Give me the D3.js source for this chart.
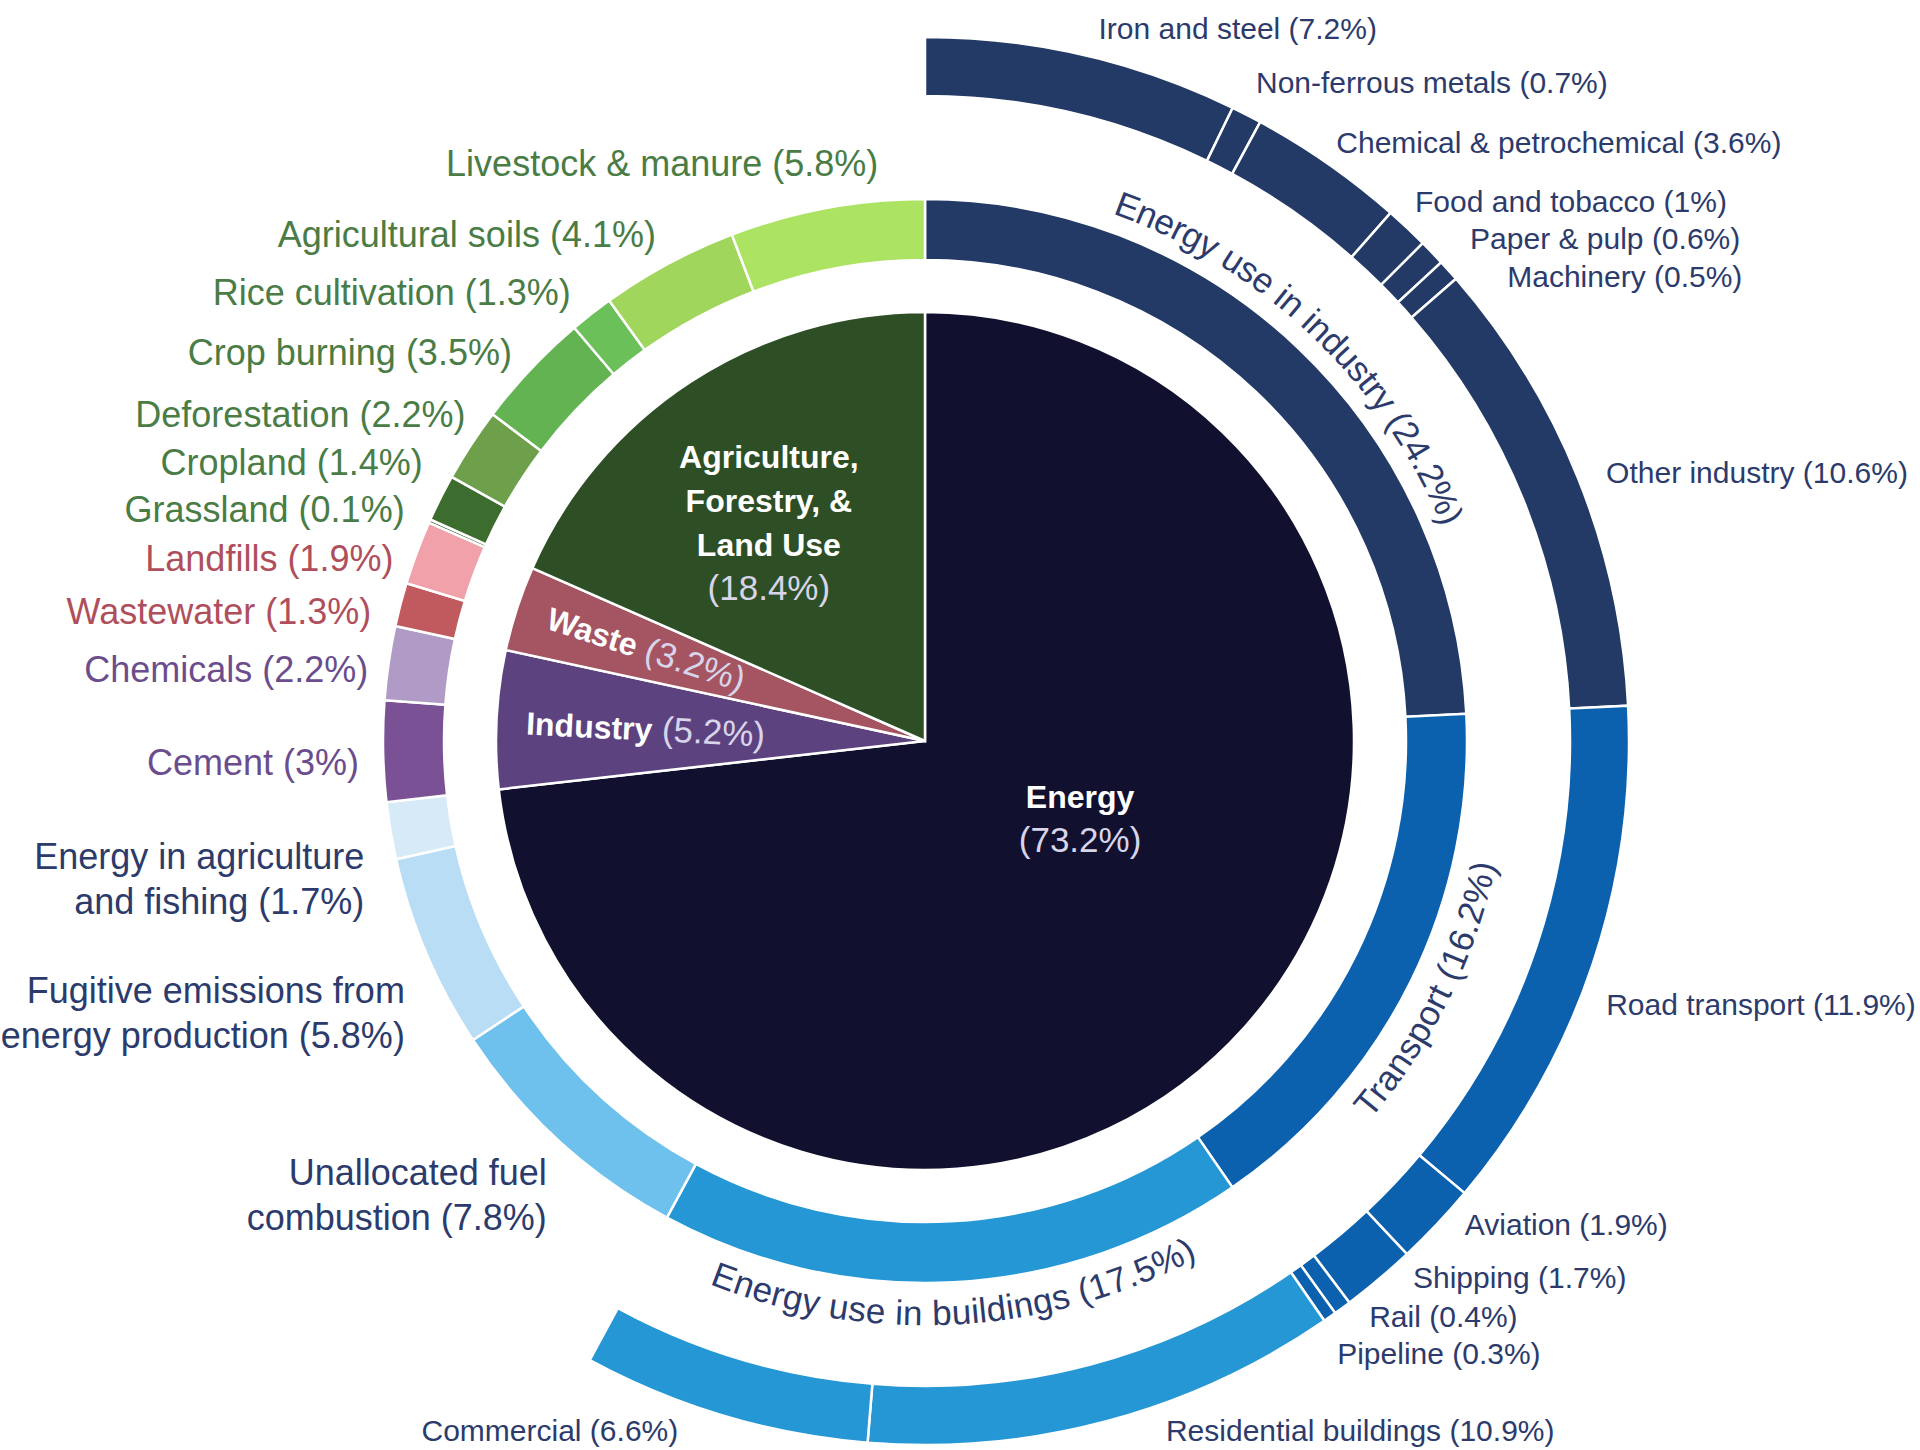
<!DOCTYPE html>
<html>
<head>
<meta charset="utf-8">
<script src="https://cdn.jsdelivr.net/npm/d3@7"></script>
<style>
body { margin: 0; background: #fff; }
text { font-family: "Liberation Sans", Arial, sans-serif; }
</style>
</head>
<body>
<div id="chart"></div>
<script>
// sectors (inner pie), clockwise from 12 o'clock
var sectors = ["Energy", "Industry", "Waste", "Agriculture, Forestry, & Land Use"];
var sectorShares = [73.2, 5.2, 3.2, 18.4];

// second ring
var energyUses = ["Energy use in industry", "Transport", "Energy use in buildings",
	"Unallocated fuel combustion", "Fugitive emissions from energy production",
	"Energy in agriculture and fishing"];
var energyShares = [24.2, 16.2, 17.5, 7.8, 5.8, 1.7];
var industryUses = ["Cement", "Chemicals"];
var industryShares = [3, 2.2];
var wasteUses = ["Wastewater", "Landfills"];
var wasteShares = [1.3, 1.9];
var agriUses = ["Grassland", "Cropland", "Deforestation", "Crop burning",
	"Rice cultivation", "Agricultural soils", "Livestock & manure"];
var agriShares = [0.1, 1.4, 2.2, 3.5, 1.3, 4.1, 5.8];

// outer ring
var industryEnergy = ["Iron and steel", "Non-ferrous metals", "Chemical & petrochemical",
	"Food and tobacco", "Paper & pulp", "Machinery", "Other industry"];
var industryEnergyShares = [7.2, 0.7, 3.6, 1, 0.6, 0.5, 10.6];
var transportUses = ["Road transport", "Aviation", "Shipping", "Rail", "Pipeline"];
var transportShares = [11.9, 1.9, 1.7, 0.4, 0.3];
var buildingUses = ["Residential buildings", "Commercial"];
var buildingShares = [10.9, 6.6];

var width = 1920,
	height = 1450,
	cx = 925,
	cy = 741;

// radii by depth
var ringInner = [0, 0, 481, 645],
	ringOuter = [0, 429, 542, 704],
	labelRadius = [0, 0, 600, 729],
	bandLabelRadius = 572;

var fills = {
	"Energy": "#11112f",
	"Industry": "#5d4280",
	"Waste": "#a55461",
	"Agriculture, Forestry, & Land Use": "#2e4f25",
	"Energy use in industry": "#233966",
	"Transport": "#0b61ae",
	"Energy use in buildings": "#2597d5",
	"Unallocated fuel combustion": "#6ec1ec",
	"Fugitive emissions from energy production": "#b8ddf5",
	"Energy in agriculture and fishing": "#d7eaf8",
	"Cement": "#7b5195",
	"Chemicals": "#b09bc7",
	"Wastewater": "#c05a5e",
	"Landfills": "#f1a1aa",
	"Grassland": "#2f5c26",
	"Cropland": "#3c6d2f",
	"Deforestation": "#6e9f4a",
	"Crop burning": "#63b353",
	"Rice cultivation": "#6cc05a",
	"Agricultural soils": "#a0d65c",
	"Livestock & manure": "#ace363"
};
["Iron and steel", "Non-ferrous metals", "Chemical & petrochemical", "Food and tobacco",
	"Paper & pulp", "Machinery", "Other industry"].forEach(function(n) { fills[n] = "#233966"; });
["Road transport", "Aviation", "Shipping", "Rail", "Pipeline"].forEach(function(n) { fills[n] = "#0b61ae"; });
["Residential buildings", "Commercial"].forEach(function(n) { fills[n] = "#2597d5"; });

var textColors = {
	"Energy": "#2c3b6b",
	"Industry": "#6b4d8d",
	"Waste": "#b04f5c",
	"Agriculture, Forestry, & Land Use": "#4a7c46"
};

// hand nudges for outside labels (px)
var labelNudge = {
	"Livestock & manure": [62, 12],
	"Agricultural soils": [15, 22],
	"Rice cultivation": [15, 24],
	"Crop burning": [23, 23],
	"Deforestation": [43, 1],
	"Cropland": [34, -10],
	"Grassland": [28, 12],
	"Landfills": [31, 26],
	"Wastewater": [27, 21],
	"Chemicals": [37, 15],
	"Cement": [34, 10],
	"Energy in agriculture and fishing": [31, 38],
	"Fugitive emissions from energy production": [32, 37],
	"Unallocated fuel combustion": [27, 11],
	"Iron and steel": [10, -2],
	"Non-ferrous metals": [-2, -10],
	"Chemical & petrochemical": [-6, -1],
	"Food and tobacco": [-9, -8],
	"Paper & pulp": [20, 3],
	"Machinery": [40, 23],
	"Other industry": [5, 4],
	"Road transport": [-10, 32],
	"Aviation": [10, -17],
	"Shipping": [18, -21],
	"Rail": [12, -12],
	"Pipeline": [-7, 16],
	"Residential buildings": [53, -15],
	"Commercial": [-39, -9]
};

// words per line for wrapped labels
var lineSplit = {
	"Energy in agriculture and fishing": [3],
	"Fugitive emissions from energy production": [3],
	"Unallocated fuel combustion": [2],
	"Agriculture, Forestry, & Land Use": [1, 2]
};

var pieLabelLayout = {
	"Energy": { r: 173, dx: 26, dy: -38, inline: false },
	"Industry": { r: 280, dx: 0, dy: 8, inline: true },
	"Waste": { r: 295, dx: 0, dy: 5, inline: true },
	"Agriculture, Forestry, & Land Use": { r: 262, dx: -13, dy: 0, inline: false }
};

function leaves(names, shares) {
	return names.map(function(n, i) { return { name: n, share: shares[i] }; });
}

var subGroups = {
	"Energy use in industry": leaves(industryEnergy, industryEnergyShares),
	"Transport": leaves(transportUses, transportShares),
	"Energy use in buildings": leaves(buildingUses, buildingShares)
};
var secondRing = [
	leaves(energyUses, energyShares),
	leaves(industryUses, industryShares),
	leaves(wasteUses, wasteShares),
	leaves(agriUses, agriShares)
];

var tree = {
	name: "all",
	children: sectors.map(function(s, i) {
		return {
			name: s,
			share: sectorShares[i],
			children: secondRing[i].map(function(c) {
				if (subGroups[c.name]) c.children = subGroups[c.name];
				return c;
			})
		};
	})
};

var root = d3.hierarchy(tree).sum(function(d) { return d.children ? 0 : d.share; });
d3.partition().size([2 * Math.PI, 4])(root);

function splitLines(name, counts) {
	var words = name.split(" ");
	if (!counts) return [name];
	var lines = [], pos = 0;
	counts.forEach(function(c) {
		lines.push(words.slice(pos, pos + c).join(" "));
		pos += c;
	});
	if (pos < words.length) lines.push(words.slice(pos).join(" "));
	return lines;
}

function sectorOf(d) {
	return d.ancestors().filter(function(a) { return a.depth === 1; })[0].data.name;
}

var svg = d3.select("#chart").append("svg")
	.attr("width", width)
	.attr("height", height);

var g = svg.append("g")
	.attr("transform", "translate(" + cx + "," + cy + ")");

var arc = d3.arc()
	.startAngle(function(d) { return d.x0; })
	.endAngle(function(d) { return d.x1; })
	.innerRadius(function(d) { return ringInner[d.depth]; })
	.outerRadius(function(d) { return ringOuter[d.depth]; });

g.selectAll("path.seg")
	.data(root.descendants().filter(function(d) { return d.depth > 0; }))
	.enter().append("path")
	.attr("class", "seg")
	.attr("d", arc)
	.attr("fill", function(d) { return fills[d.data.name]; })
	.attr("stroke", "#fff")
	.attr("stroke-width", 2.5);

// outside labels for leaves
root.descendants().filter(function(d) { return d.depth >= 2 && !d.children; })
	.forEach(function(d) {
		var mid = (d.x0 + d.x1) / 2,
			R = labelRadius[d.depth],
			nud = labelNudge[d.data.name] || [0, 0],
			x = R * Math.sin(mid) + nud[0],
			y = -R * Math.cos(mid) + nud[1],
			fs = d.depth === 2 ? 36 : 30,
			lh = d.depth === 2 ? 45 : 38;
		var lines = splitLines(d.data.name, lineSplit[d.data.name]);
		lines[lines.length - 1] += " (" + d.data.share + "%)";
		var t = g.append("text")
			.attr("x", x)
			.attr("y", y)
			.attr("text-anchor", Math.sin(mid) < 0 ? "end" : "start")
			.attr("font-size", fs)
			.attr("fill", textColors[sectorOf(d)]);
		lines.forEach(function(l, i) {
			t.append("tspan")
				.attr("x", x)
				.attr("dy", i === 0 ? (-(lines.length - 1) / 2 * lh + fs * 0.35) : lh)
				.text(l);
		});
	});

// curved labels for the grouped energy uses
function bandPath(d, r) {
	var mid = (d.x0 + d.x1) / 2,
		flip = mid > Math.PI / 2 && mid < 3 * Math.PI / 2;
	function pt(a) { return [r * Math.sin(a), -r * Math.cos(a)]; }
	if (!flip) return "M" + pt(d.x0) + "A" + r + "," + r + " 0 0,1 " + pt(d.x1);
	return "M" + pt(d.x1) + "A" + r + "," + r + " 0 0,0 " + pt(d.x0);
}

root.descendants().filter(function(d) { return d.depth === 2 && d.children; })
	.forEach(function(d, i) {
		g.append("path")
			.attr("id", "band" + i)
			.attr("d", bandPath(d, bandLabelRadius))
			.attr("fill", "none");
		g.append("text")
			.attr("dy", "0.35em")
			.attr("font-size", 35)
			.attr("fill", "#2c3b6b")
			.append("textPath")
			.attr("href", "#band" + i)
			.attr("startOffset", "50%")
			.attr("text-anchor", "middle")
			.text(d.data.name + " (" + d.data.share + "%)");
	});

// labels inside the pie
root.children.forEach(function(d) {
	var lay = pieLabelLayout[d.data.name],
		mid = (d.x0 + d.x1) / 2,
		x = lay.r * Math.sin(mid) + lay.dx,
		y = -lay.r * Math.cos(mid) + lay.dy,
		pct = "(" + d.data.share + "%)";
	var t = g.append("text")
		.attr("text-anchor", "middle")
		.attr("fill", "#fff");
	if (lay.inline) {
		var deg = mid * 180 / Math.PI;
		var rot = deg < 180 ? deg - 90 : deg - 270;
		t.attr("transform", "translate(" + x + "," + y + ")rotate(" + rot + ")")
			.attr("dy", "0.35em");
		t.append("tspan").attr("font-size", 32).attr("font-weight", "bold").text(d.data.name);
		t.append("tspan").attr("font-size", 35).attr("fill", "#d8d5ea").text("\u00a0" + pct);
	} else {
		var lines = splitLines(d.data.name, lineSplit[d.data.name]),
			lh = 44,
			n = lines.length + 1;
		lines.forEach(function(l, i) {
			t.append("tspan")
				.attr("x", x)
				.attr("y", y + (i - (n - 1) / 2) * lh + 12)
				.attr("font-size", 32)
				.attr("font-weight", "bold")
				.text(l);
		});
		t.append("tspan")
			.attr("x", x)
			.attr("y", y + ((n - 1) / 2) * lh + 12)
			.attr("font-size", 35)
			.attr("fill", "#d8d5ea")
			.text(pct);
	}
});
</script>
</body>
</html>
